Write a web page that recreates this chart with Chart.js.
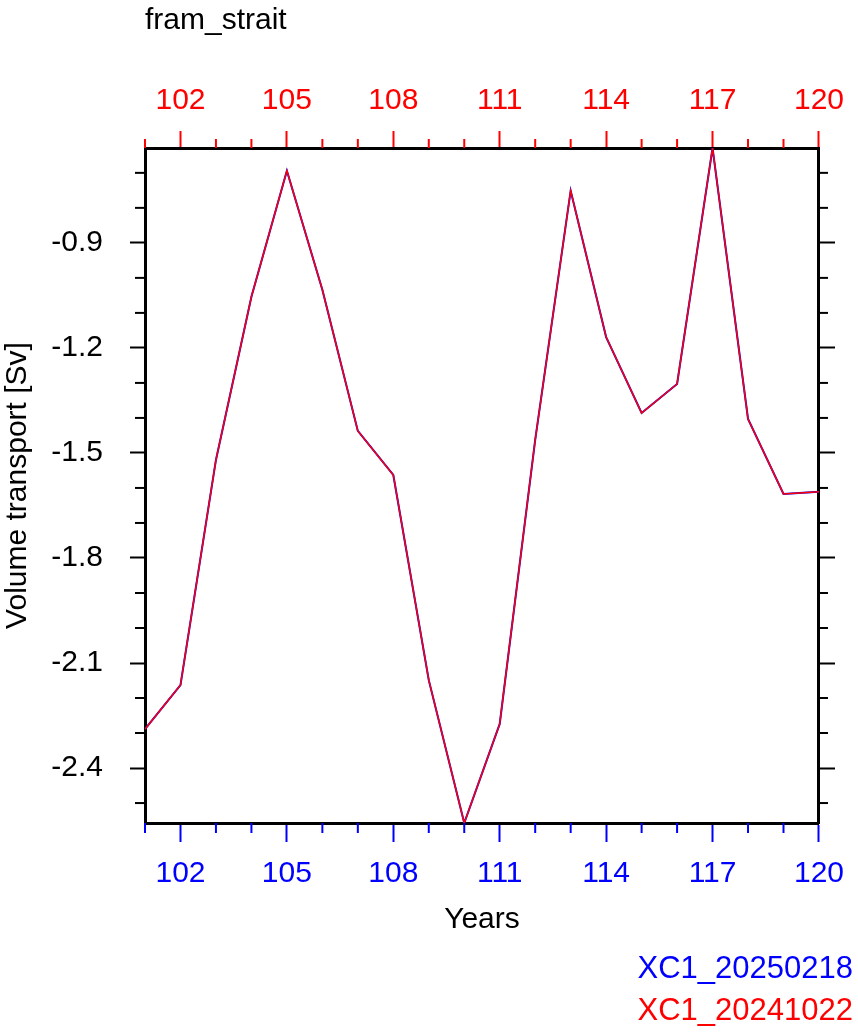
<!DOCTYPE html>
<html>
<head>
<meta charset="utf-8">
<script src="https://cdn.jsdelivr.net/npm/chart.js@4.4.1/dist/chart.umd.min.js"></script>
<style>
  html,body{margin:0;padding:0;background:#fff;}
  #wrap{width:858px;height:1035px;}
</style>
</head>
<body>
<div id="wrap"><canvas id="c" width="858" height="1035"></canvas></div>
<script>
// data
const years = [101,102,103,104,105,106,107,108,109,110,111,112,113,114,115,116,117,118,119,120];
const runNew = [-2.289,-2.163,-1.520,-1.054,-0.694,-1.034,-1.437,-1.563,-2.149,-2.557,-2.274,-1.463,-0.751,-1.169,-1.386,-1.303,-0.629,-1.403,-1.617,-1.611];
const runOld = [-2.289,-2.163,-1.520,-1.054,-0.694,-1.034,-1.437,-1.563,-2.149,-2.557,-2.274,-1.463,-0.751,-1.169,-1.386,-1.303,-0.629,-1.403,-1.617,-1.611];
const labelNew = 'XC1_20250218';
const labelOld = 'XC1_20241022';
const xMajor = [102,105,108,111,114,117,120];
const yMajor = [-0.9,-1.2,-1.5,-1.8,-2.1,-2.4];
const yMinor = [-0.7,-0.8,-1.0,-1.1,-1.3,-1.4,-1.6,-1.7,-1.9,-2.0,-2.2,-2.3,-2.5];

const FONT = '"Liberation Sans", Arial, Helvetica, sans-serif';
const allVals = runNew.concat(runOld);
const yMin = Math.min(...allVals), yMax = Math.max(...allVals);

const pts = arr => years.map((y,i)=>({x:y, y:arr[i]}));

// minor ticks + free text (title, run names)
const extras = {
  id:'extras',
  afterDraw(chart){
    const {ctx, scales} = chart;
    const ca = chart.chartArea;
    ctx.save();
    ctx.lineWidth = 2;
    // x minor ticks
    years.filter(y=>!xMajor.includes(y)).forEach(y=>{
      const px = scales.x.getPixelForValue(y);
      ctx.strokeStyle = '#0000ff';
      ctx.beginPath(); ctx.moveTo(px, ca.bottom); ctx.lineTo(px, ca.bottom+10); ctx.stroke();
      ctx.strokeStyle = '#ff0000';
      ctx.beginPath(); ctx.moveTo(px, ca.top); ctx.lineTo(px, ca.top-9); ctx.stroke();
    });
    // y minor ticks
    ctx.strokeStyle = '#000';
    yMinor.forEach(v=>{
      const py = scales.y.getPixelForValue(v);
      ctx.beginPath(); ctx.moveTo(ca.left, py); ctx.lineTo(ca.left-10, py); ctx.stroke();
      ctx.beginPath(); ctx.moveTo(ca.right, py); ctx.lineTo(ca.right+9, py); ctx.stroke();
    });
    // title
    ctx.fillStyle = '#000';
    ctx.font = '30px ' + FONT;
    ctx.textAlign = 'left'; ctx.textBaseline = 'middle';
    ctx.fillText('fram_strait', 145, 21);
    // run names
    ctx.font = '31px ' + FONT;
    ctx.textAlign = 'right';
    ctx.fillStyle = '#0000ff'; ctx.fillText(labelNew, 853, 969);
    ctx.fillStyle = '#ff0000'; ctx.fillText(labelOld, 853, 1011);
    ctx.restore();
  }
};

new Chart(document.getElementById('c').getContext('2d'), {
  type:'line',
  data:{ datasets:[
    { label:labelNew, data:pts(runNew), borderColor:'#0000ff', borderWidth:2, pointRadius:0, tension:0, order:1, xAxisID:'x', yAxisID:'y' },
    { label:labelOld, data:pts(runOld), borderColor:'#ff0000', borderWidth:1.5, pointRadius:0, tension:0, order:0, xAxisID:'x', yAxisID:'y' }
  ]},
  options:{
    responsive:false, animation:false,
    layout:{ padding:{ left:0, right:0, top:0, bottom:97 } },
    plugins:{ legend:{display:false}, tooltip:{enabled:false} },
    scales:{
      x:{ type:'linear', position:'bottom', min:years[0], max:years[years.length-1],
        afterBuildTicks: s => { s.ticks = xMajor.map(v=>({value:v})); },
        afterFit: s => { s.height = 115; },
        ticks:{ color:'#0000ff', font:{family:FONT, size:30}, padding:14, maxRotation:0, autoSkip:false, callback:v=>String(v) },
        grid:{ drawOnChartArea:false, drawTicks:true, tickLength:19, tickColor:'#0000ff', tickWidth:2 },
        border:{ display:true, color:'#000', width:3 },
        title:{ display:true, text:'Years', color:'#000', font:{family:FONT, size:30}, padding:0 }
      },
      x2:{ type:'linear', position:'top', min:years[0], max:years[years.length-1],
        afterBuildTicks: s => { s.ticks = xMajor.map(v=>({value:v})); },
        afterFit: s => { s.height = 148; },
        ticks:{ color:'#ff0000', font:{family:FONT, size:30}, padding:12, maxRotation:0, autoSkip:false, callback:v=>String(v) },
        grid:{ drawOnChartArea:false, drawTicks:true, tickLength:17, tickColor:'#ff0000', tickWidth:2 },
        border:{ display:true, color:'#000', width:3 }
      },
      y:{ type:'linear', position:'left', min:yMin, max:yMax,
        afterBuildTicks: s => { s.ticks = yMajor.map(v=>({value:v})); },
        afterFit: s => { s.width = 145; },
        ticks:{ color:'#000', font:{family:FONT, size:30}, padding:27, callback:v=>v.toFixed(1) },
        grid:{ drawOnChartArea:false, drawTicks:true, tickLength:15, tickColor:'#000', tickWidth:2 },
        border:{ display:true, color:'#000', width:3 },
        title:{ display:true, text:'Volume transport [Sv]', color:'#000', font:{family:FONT, size:30}, padding:0 }
      },
      y2:{ type:'linear', position:'right', min:yMin, max:yMax,
        afterBuildTicks: s => { s.ticks = yMajor.map(v=>({value:v})); },
        afterFit: s => { s.width = 38; },
        ticks:{ display:false },
        grid:{ drawOnChartArea:false, drawTicks:true, tickLength:16, tickColor:'#000', tickWidth:2 },
        border:{ display:true, color:'#000', width:3 }
      }
    }
  },
  plugins:[extras]
});
</script>
</body>
</html>
